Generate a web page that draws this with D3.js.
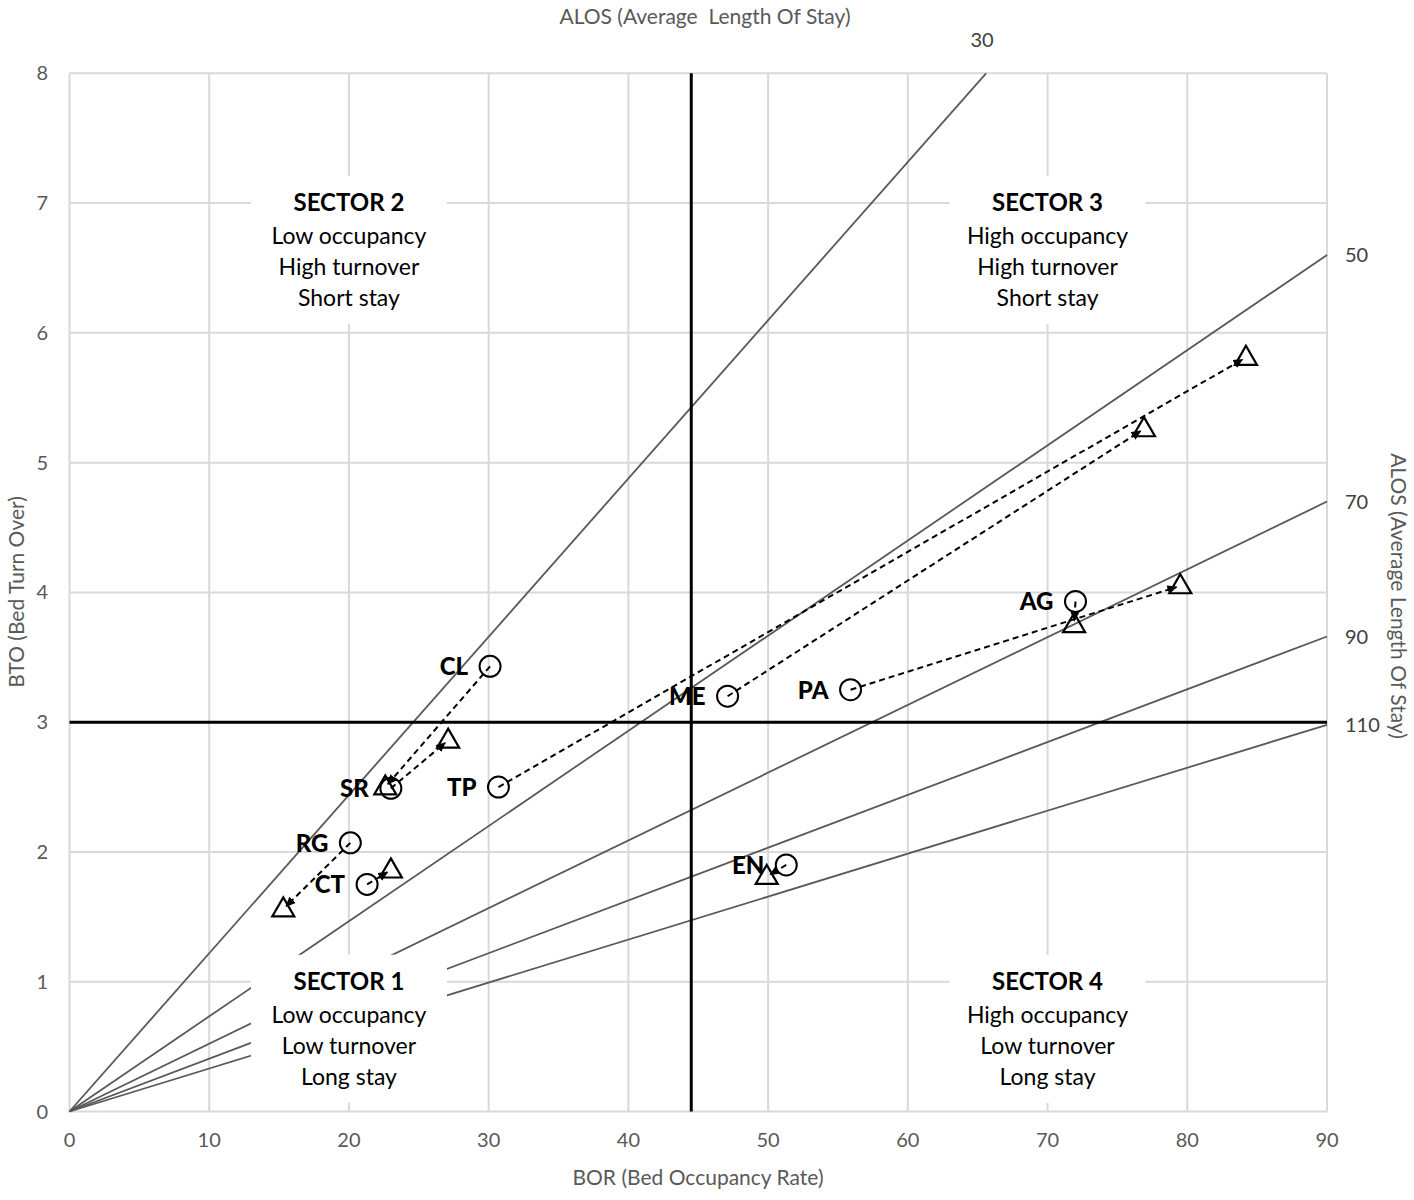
<!DOCTYPE html>
<html>
<head>
<meta charset="utf-8">
<script src="https://cdn.jsdelivr.net/npm/d3@7"></script>
<style>
  body { margin: 0; background: #fff; }
  text { font-family: Lato, "Open Sans", sans-serif; }
</style>
</head>
<body>
<div id="container"></div>
<script>
/* DATA */
const hospitals = ["CL", "SR", "TP", "ME", "PA", "AG", "RG", "CT", "EN"];
// first year (circles)
const borYear1 = [30.1, 23.0, 30.7, 47.1, 55.9, 72.0, 20.1, 21.3, 51.3];
const btoYear1 = [3.43, 2.49, 2.50, 3.20, 3.25, 3.93, 2.07, 1.75, 1.90];
// second year (triangles)
const borYear2 = [22.6, 27.1, 84.2, 76.9, 79.5, 71.9, 15.3, 23.0, 49.9];
const btoYear2 = [2.50, 2.86, 5.81, 5.26, 4.05, 3.75, 1.56, 1.86, 1.81];

// ALOS iso-lines from origin, end points
const alosValues = [30, 50, 70, 90, 110];
const alosEndBor = [65.6, 90, 90, 90, 90];
const alosEndBto = [8, 6.6, 4.7, 3.66, 2.98];

const borTicks = [0, 10, 20, 30, 40, 50, 60, 70, 80, 90];
const btoTicks = [0, 1, 2, 3, 4, 5, 6, 7, 8];

const borSplit = 44.5;
const btoSplit = 3;

const sectorNames = ["SECTOR 1", "SECTOR 2", "SECTOR 3", "SECTOR 4"];
const sectorOccupancy = ["Low occupancy", "Low occupancy", "High occupancy", "High occupancy"];
const sectorTurnover = ["Low turnover", "High turnover", "High turnover", "Low turnover"];
const sectorStay = ["Long stay", "Short stay", "Short stay", "Long stay"];
const sectorBor = [20, 20, 70, 70];
const sectorBto = [1, 7, 7, 1];

/* SVG */
const W = 1414, H = 1200;
const svg = d3.select("#container")
  .append("svg")
    .attr("width", W)
    .attr("height", H);

svg.append("rect").attr("width", W).attr("height", H).attr("fill", "#fff");

const x = d3.scaleLinear().domain([0, 90]).range([69.5, 1327]);
const y = d3.scaleLinear().domain([0, 8]).range([1111.5, 73.3]);

/* GRID */
svg.append("g")
  .selectAll("line")
  .data(borTicks)
  .join("line")
    .attr("x1", d => x(d)).attr("x2", d => x(d))
    .attr("y1", y(0)).attr("y2", y(8))
    .attr("stroke", "#d9d9d9").attr("stroke-width", 2);

svg.append("g")
  .selectAll("line")
  .data(btoTicks)
  .join("line")
    .attr("x1", x(0)).attr("x2", x(90))
    .attr("y1", d => y(d)).attr("y2", d => y(d))
    .attr("stroke", "#d9d9d9").attr("stroke-width", 2);

/* TICK LABELS */
svg.append("g")
  .selectAll("text")
  .data(borTicks)
  .join("text")
    .attr("x", d => x(d))
    .attr("y", 1147)
    .attr("text-anchor", "middle")
    .style("font-size", "20px")
    .attr("fill", "#595959")
    .text(d => d);

svg.append("g")
  .selectAll("text")
  .data(btoTicks)
  .join("text")
    .attr("x", 48)
    .attr("y", d => y(d) + 7)
    .attr("text-anchor", "end")
    .style("font-size", "20px")
    .attr("fill", "#595959")
    .text(d => d);

/* ALOS LINES */
const alos = alosValues.map((v, i) => ({alos: v, bor: alosEndBor[i], bto: alosEndBto[i]}));

svg.append("g")
  .selectAll("line")
  .data(alos)
  .join("line")
    .attr("x1", x(0)).attr("y1", y(0))
    .attr("x2", d => x(d.bor)).attr("y2", d => y(d.bto))
    .attr("stroke", "#595959").attr("stroke-width", 1.8);

svg.append("g")
  .selectAll("text")
  .data(alos)
  .join("text")
    .attr("x", d => d.bto >= 8 ? x(d.bor) - 4 : x(d.bor) + 18)
    .attr("y", d => d.bto >= 8 ? y(d.bto) - 26 : y(d.bto) + 7)
    .attr("text-anchor", d => d.bto >= 8 ? "middle" : "start")
    .style("font-size", "20px")
    .attr("fill", "#404040")
    .text(d => d.alos);

/* SECTOR LABELS (white boxes hide grid and lines) */
const sectors = sectorNames.map((s, i) => ({
  name: s, lines: [sectorOccupancy[i], sectorTurnover[i], sectorStay[i]],
  bor: sectorBor[i], bto: sectorBto[i]
}));

const sg = svg.append("g")
  .selectAll("g")
  .data(sectors)
  .join("g")
    .attr("transform", d => `translate(${x(d.bor)},${y(d.bto)})`);

sg.append("rect")
  .attr("x", -98).attr("y", -27)
  .attr("width", 196).attr("height", 148)
  .attr("fill", "#fff");

sg.append("text")
  .attr("text-anchor", "middle")
  .attr("y", 8)
  .style("font-size", "24px")
  .style("font-weight", "bold")
  .attr("fill", "#000")
  .text(d => d.name);

sg.each(function(d) {
  d3.select(this).selectAll("text.line")
    .data(d.lines)
    .join("text")
      .attr("class", "line")
      .attr("text-anchor", "middle")
      .attr("y", (t, j) => 41 + j * 31)
      .style("font-size", "23px")
      .attr("fill", "#000")
      .text(t => t);
});

/* THICK SPLIT LINES */
svg.append("line")
  .attr("x1", x(borSplit)).attr("x2", x(borSplit))
  .attr("y1", y(0)).attr("y2", y(8))
  .attr("stroke", "#000").attr("stroke-width", 3);
svg.append("line")
  .attr("x1", x(0)).attr("x2", x(90))
  .attr("y1", y(btoSplit)).attr("y2", y(btoSplit))
  .attr("stroke", "#000").attr("stroke-width", 3);

/* AXIS TITLES */
svg.append("text")
  .attr("x", 698).attr("y", 1185)
  .attr("text-anchor", "middle")
  .style("font-size", "21px")
  .attr("fill", "#595959")
  .text("BOR (Bed Occupancy Rate)");

svg.append("text")
  .attr("transform", "translate(24,592)rotate(-90)")
  .attr("text-anchor", "middle")
  .style("font-size", "21px")
  .attr("fill", "#595959")
  .text("BTO (Bed Turn Over)");

svg.append("text")
  .attr("x", 705).attr("y", 24)
  .attr("text-anchor", "middle")
  .style("font-size", "21px")
  .attr("fill", "#595959")
  .style("white-space", "pre")
  .text("ALOS (Average  Length Of Stay)");

svg.append("text")
  .attr("transform", "translate(1391,596)rotate(90)")
  .attr("text-anchor", "middle")
  .style("font-size", "21px")
  .attr("fill", "#595959")
  .text("ALOS (Average Length Of Stay)");

/* ARROWS */
svg.append("defs").append("marker")
  .attr("id", "arrow")
  .attr("markerUnits", "userSpaceOnUse")
  .attr("markerWidth", 10).attr("markerHeight", 10)
  .attr("refX", 9).attr("refY", 5)
  .attr("orient", "auto")
  .append("path")
    .attr("d", "M0,0.5L10,5L0,9.5Z")
    .attr("fill", "#000");

const pts = hospitals.map((h, i) => ({
  name: h, b1: borYear1[i], t1: btoYear1[i], b2: borYear2[i], t2: btoYear2[i]
}));

svg.append("g")
  .selectAll("line")
  .data(pts)
  .join("line")
    .attr("x1", d => x(d.b1)).attr("y1", d => y(d.t1))
    .attr("x2", d => {
      const dx = x(d.b2) - x(d.b1), dy = y(d.t2) - y(d.t1);
      const len = Math.hypot(dx, dy);
      return x(d.b2) - dx / len * 4;
    })
    .attr("y2", d => {
      const dx = x(d.b2) - x(d.b1), dy = y(d.t2) - y(d.t1);
      const len = Math.hypot(dx, dy);
      return y(d.t2) - dy / len * 4;
    })
    .attr("stroke", "#000")
    .attr("stroke-width", 2)
    .attr("stroke-dasharray", "6,4")
    .attr("marker-end", "url(#arrow)");

/* MARKERS */
svg.append("g")
  .selectAll("circle")
  .data(pts)
  .join("circle")
    .attr("cx", d => x(d.b1))
    .attr("cy", d => y(d.t1))
    .attr("r", 10.5)
    .attr("fill", "none")
    .attr("stroke", "#000")
    .attr("stroke-width", 2);

const tri = d3.symbol().type(d3.symbolTriangle).size(210);
svg.append("g")
  .selectAll("path")
  .data(pts)
  .join("path")
    .attr("d", tri)
    .attr("transform", d => `translate(${x(d.b2)},${y(d.t2) + 1})`)
    .attr("fill", "none")
    .attr("stroke", "#000")
    .attr("stroke-width", 2.2);

/* POINT LABELS */
svg.append("g")
  .selectAll("text")
  .data(pts)
  .join("text")
    .attr("x", d => x(d.b1) - 22)
    .attr("y", d => y(d.t1) + 9)
    .attr("text-anchor", "end")
    .style("font-size", "24px")
    .style("font-weight", "900")
    .attr("fill", "#000")
    .text(d => d.name);
</script>
</body>
</html>
